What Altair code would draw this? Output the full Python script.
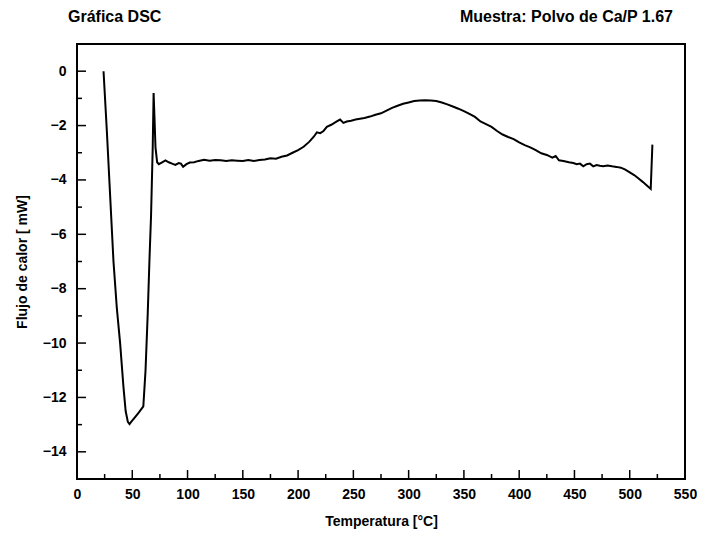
import altair as alt
import pandas as pd

# ---- data ----
temp = [24, 27, 30, 33, 36, 39, 42, 44, 46, 47.5, 49, 52, 56, 60, 62, 64, 65.5, 67, 68.5, 69.3,
        70, 71, 72.5, 74, 77, 80, 83, 86, 89, 92, 94, 96, 99, 102, 106, 110, 115, 120, 125, 130,
        135, 140, 145, 150, 155, 160, 165, 170, 175, 180, 185, 190, 195, 200, 205, 210, 214, 217,
        220, 223, 226, 230, 235, 238, 241, 244, 248, 252, 256, 260, 265, 270, 275, 280, 285, 290,
        295, 300, 305, 310, 315, 320, 325, 330, 335, 340, 345, 350, 355, 360, 365, 370, 375, 380,
        385, 390, 395, 400, 405, 410, 415, 420, 425, 430, 433, 436, 440, 445, 449, 452, 455, 458,
        461, 464, 467, 470, 473, 476, 480, 484, 488, 492, 496, 500, 504, 508, 512, 516, 519, 520.5]
flow = [0, -2.2, -4.6, -7.0, -8.7, -10.0, -11.6, -12.5, -12.9, -12.98, -12.9, -12.75, -12.55, -12.33,
        -11.0, -8.9, -7.0, -5.3, -2.8, -0.8,
        -1.6, -2.8, -3.35, -3.42, -3.35, -3.28, -3.35, -3.4, -3.45, -3.38, -3.4, -3.52, -3.42, -3.36,
        -3.35, -3.3, -3.26, -3.29, -3.27, -3.28,
        -3.3, -3.28, -3.29, -3.3, -3.27, -3.3, -3.27, -3.25, -3.2, -3.22, -3.15, -3.1, -3.0, -2.9,
        -2.78, -2.6, -2.42, -2.25,
        -2.28, -2.2, -2.05, -1.97, -1.85, -1.78, -1.9, -1.85, -1.82, -1.78, -1.75, -1.72, -1.67, -1.6,
        -1.55, -1.45, -1.35, -1.27,
        -1.2, -1.15, -1.1, -1.08, -1.07, -1.08, -1.1, -1.15, -1.22, -1.3, -1.38, -1.47, -1.57, -1.68,
        -1.85, -1.95, -2.05, -2.2,
        -2.33, -2.42, -2.5, -2.62, -2.72, -2.8, -2.9, -3.02, -3.08, -3.18, -3.12, -3.28, -3.3, -3.35,
        -3.38, -3.42, -3.4, -3.5,
        -3.42, -3.4, -3.5, -3.45, -3.48, -3.5, -3.47, -3.5, -3.52, -3.55, -3.62, -3.72, -3.82, -3.95,
        -4.08, -4.22, -4.33, -2.7]

x_major = [0, 50, 100, 150, 200, 250, 300, 350, 400, 450, 500, 550]
x_minor = [25, 75, 125, 175, 225, 275, 325, 375, 425, 475, 525]
y_major = [-14, -12, -10, -8, -6, -4, -2, 0]
y_minor = [-15, -13, -11, -9, -7, -5, -3, -1, 1]

title_left = "Gráfica DSC"
title_right = "Muestra: Polvo de Ca/P 1.67"
x_title = "Temperatura [°C]"
y_title = "Flujo de calor [ mW]"

FONT = "Liberation Sans"
W, H = 608, 435

df = pd.DataFrame({"T": temp, "Q": flow})
xs = alt.Scale(domain=[0, 550], nice=False, zero=False)
ys = alt.Scale(domain=[-15, 1], nice=False, zero=False)
x_axis = alt.Axis(values=x_major, title=x_title, labelPadding=8, titlePadding=13,
                  labelFlush=False, labelOverlap=False)
y_axis = alt.Axis(values=y_major, title=y_title, labelPadding=11, titlePadding=13,
                  labelFlush=False, labelOverlap=False)

line = alt.Chart(df).mark_line(color="black", strokeWidth=2).encode(
    x=alt.X("T:Q", scale=xs, axis=x_axis),
    y=alt.Y("Q:Q", scale=ys, axis=y_axis),
)

def xticks(vals, length):
    return alt.Chart(pd.DataFrame({"t": vals})).mark_rule(color="black", strokeWidth=1.5).encode(
        x=alt.X("t:Q", scale=xs, axis=x_axis),
        y=alt.value(H), y2=alt.value(H - length))

def yticks(vals, length):
    return alt.Chart(pd.DataFrame({"t": vals})).mark_rule(color="black", strokeWidth=1.5).encode(
        y=alt.Y("t:Q", scale=ys, axis=y_axis),
        x=alt.value(0), x2=alt.value(length))

tl = alt.Chart(pd.DataFrame({"s": [title_left]})).mark_text(
    font=FONT, fontSize=16, fontWeight="bold", align="left", baseline="alphabetic", color="black"
).encode(text="s:N", x=alt.value(-9), y=alt.value(-22))
tr = alt.Chart(pd.DataFrame({"s": [title_right]})).mark_text(
    font=FONT, fontSize=16, fontWeight="bold", align="right", baseline="alphabetic", color="black"
).encode(text="s:N", x=alt.value(596), y=alt.value(-22))

chart = alt.layer(
    line, xticks(x_major, 9), xticks(x_minor, 5), yticks(y_major, 9), yticks(y_minor, 5), tl, tr
).properties(
    width=W, height=H,
    autosize=alt.AutoSizeParams(type="none"),
    padding={"left": 69, "top": 36, "right": 12, "bottom": 51},
    background="white",
).configure_view(
    stroke="black", strokeWidth=2
).configure_axis(
    labelFont=FONT, labelFontSize=14, labelFontWeight="bold", labelColor="black",
    titleFont=FONT, titleFontSize=14, titleFontWeight="bold", titleColor="black",
    ticks=False, tickSize=0, domain=False, grid=False,
)

chart.save("out.html", embed_options={"renderer": "svg", "actions": False})
